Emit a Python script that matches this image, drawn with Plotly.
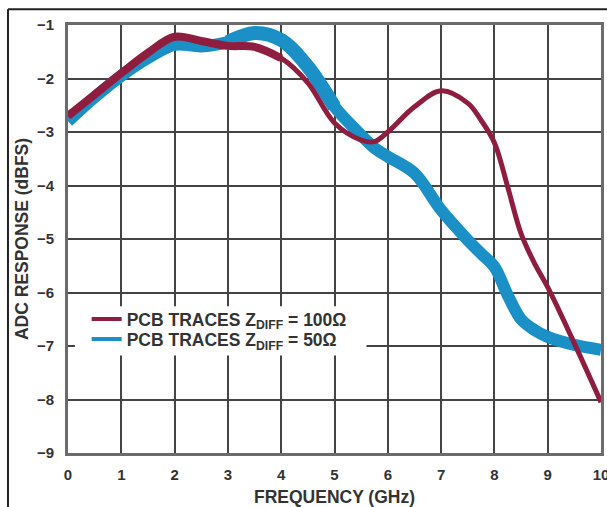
import plotly.graph_objects as go

freq = [0, 0.5, 1, 1.5, 2, 2.5, 3, 3.5, 4, 4.5, 5, 5.5, 5.75, 6, 6.5, 7, 7.5, 7.75, 8, 8.25, 8.5, 8.75, 9, 9.5, 10]
red_100 = [-2.7, -2.3, -1.9, -1.52, -1.22, -1.3, -1.39, -1.41, -1.62, -2.08, -2.83, -3.15, -3.18, -3.0, -2.53, -2.23, -2.46, -2.78, -3.2, -4.03, -4.9, -5.45, -5.9, -6.95, -8.05]
blue_50 = [-2.8, -2.35, -1.95, -1.62, -1.37, -1.4, -1.32, -1.15, -1.28, -1.78, -2.53, -3.06, -3.3, -3.46, -3.77, -4.46, -5.02, -5.27, -5.52, -6.05, -6.5, -6.7, -6.83, -6.98, -7.07]

RED = "#8f1d3f"
BLUE = "#1b90c6"
FONT = "Liberation Sans, Arial, sans-serif"
TXT = "#333333"


def seg(xs, ys, lo, hi):
    px = [x for x in xs if lo <= x <= hi]
    py = [y for x, y in zip(xs, ys) if lo <= x <= hi]
    return px, py


fig = go.Figure()

# 50 ohm trace (thick blue)
fig.add_trace(go.Scatter(x=freq, y=blue_50, mode="lines",
                         line=dict(color=BLUE, width=12, shape="spline", smoothing=1.0),
                         showlegend=False, hoverinfo="skip"))
x, y = seg(freq, blue_50, 3, 5)
fig.add_trace(go.Scatter(x=x, y=y, mode="lines",
                         line=dict(color=BLUE, width=14, shape="spline", smoothing=1.0),
                         showlegend=False, hoverinfo="skip"))

# 100 ohm trace (red, thicker at low frequency)
fig.add_trace(go.Scatter(x=freq, y=red_100, mode="lines",
                         line=dict(color=RED, width=5, shape="spline", smoothing=1.0),
                         showlegend=False, hoverinfo="skip"))
x, y = seg(freq, red_100, 0, 4)
fig.add_trace(go.Scatter(x=x, y=y, mode="lines",
                         line=dict(color=RED, width=8, shape="spline", smoothing=1.0),
                         showlegend=False, hoverinfo="skip"))

# legend entries
fig.add_trace(go.Scatter(x=[None], y=[None], mode="lines", line=dict(color=RED, width=4),
                         name="PCB TRACES Z<sub>DIFF</sub> = 100Ω", legend="legend"))
fig.add_trace(go.Scatter(x=[None], y=[None], mode="lines", line=dict(color=BLUE, width=4),
                         name="PCB TRACES Z<sub>DIFF</sub> = 50Ω", legend="legend2"))

leg_font = dict(family=FONT, size=17.5, color=TXT, weight="bold")
tick_font = dict(family=FONT, size=15, color=TXT, weight="bold")
title_font = dict(family=FONT, size=17.5, color=TXT, weight="bold")

fig.update_layout(
    width=607, height=507,
    margin=dict(l=68, r=6, t=25, b=54, autoexpand=False),
    paper_bgcolor="white", plot_bgcolor="white",
    font=dict(family=FONT, size=15, color=TXT),
    showlegend=True,
    legend=dict(x=0.035, y=0.313, xanchor="left", yanchor="middle", bgcolor="rgba(0,0,0,0)",
                font=leg_font, itemwidth=30, borderwidth=0),
    legend2=dict(x=0.035, y=0.266, xanchor="left", yanchor="middle", bgcolor="rgba(0,0,0,0)",
                 font=leg_font, itemwidth=30, borderwidth=0),
    xaxis=dict(range=[0, 10], dtick=1, tick0=0, showgrid=True, gridcolor="#444444", gridwidth=1.5,
               showline=True, linecolor="#6b6b6b", linewidth=3, mirror=True, zeroline=False,
               ticks="", ticklabelstandoff=6, automargin=False, tickfont=tick_font,
               ticklabeloverflow="allow",
               title=dict(text="FREQUENCY (GHz)", standoff=12, font=title_font)),
    yaxis=dict(range=[-9, -1], dtick=1, tick0=-9, showgrid=True, gridcolor="#444444", gridwidth=1.5,
               showline=True, linecolor="#6b6b6b", linewidth=3, mirror=True, zeroline=False,
               ticks="", ticklabelstandoff=8, automargin=False, tickfont=tick_font,
               ticklabeloverflow="allow",
               title=dict(text="ADC RESPONSE (dBFS)", standoff=4, font=title_font)),
    shapes=[
        # white panel behind the legend
        dict(type="rect", xref="paper", yref="paper", x0=0.013, x1=0.56, y0=0.228, y1=0.343,
             fillcolor="white", line=dict(width=0), layer="above"),
        dict(type="line", xref="paper", yref="paper", x0=-0.1126, x1=-0.1126, y0=1.037, y1=-0.2,
             line=dict(color="#222222", width=2)),
        dict(type="line", xref="paper", yref="paper", x0=-0.1126, x1=1.02, y0=1.037, y1=1.037,
             line=dict(color="#222222", width=2)),
    ],
)

fig.write_html("out.html")
